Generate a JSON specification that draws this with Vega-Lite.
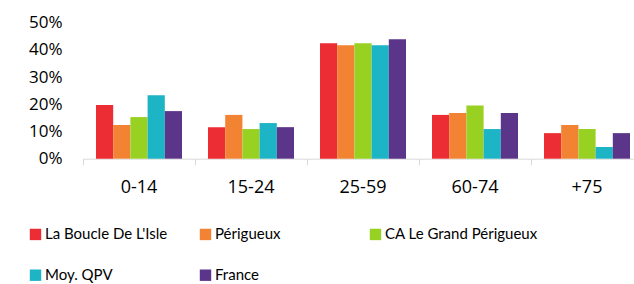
{
  "$schema": "https://vega.github.io/schema/vega-lite/v6.json",
  "width": 551,
  "height": 136,
  "autosize": "none",
  "padding": {"left": 83, "top": 22.7, "right": 0, "bottom": 125.3},
  "background": "white",
  "config": {"view": {"stroke": null}},
  "data": {
    "values": [
      {"age": "0-14", "series": "La Boucle De L'Isle", "value": 0.197},
      {"age": "0-14", "series": "Périgueux", "value": 0.124},
      {"age": "0-14", "series": "CA Le Grand Périgueux", "value": 0.153},
      {"age": "0-14", "series": "Moy. QPV", "value": 0.233},
      {"age": "0-14", "series": "France", "value": 0.175},
      {"age": "15-24", "series": "La Boucle De L'Isle", "value": 0.116},
      {"age": "15-24", "series": "Périgueux", "value": 0.161},
      {"age": "15-24", "series": "CA Le Grand Périgueux", "value": 0.109},
      {"age": "15-24", "series": "Moy. QPV", "value": 0.131},
      {"age": "15-24", "series": "France", "value": 0.116},
      {"age": "25-59", "series": "La Boucle De L'Isle", "value": 0.424},
      {"age": "25-59", "series": "Périgueux", "value": 0.417},
      {"age": "25-59", "series": "CA Le Grand Périgueux", "value": 0.424},
      {"age": "25-59", "series": "Moy. QPV", "value": 0.417},
      {"age": "25-59", "series": "France", "value": 0.439},
      {"age": "60-74", "series": "La Boucle De L'Isle", "value": 0.161},
      {"age": "60-74", "series": "Périgueux", "value": 0.168},
      {"age": "60-74", "series": "CA Le Grand Périgueux", "value": 0.196},
      {"age": "60-74", "series": "Moy. QPV", "value": 0.109},
      {"age": "60-74", "series": "France", "value": 0.168},
      {"age": "+75", "series": "La Boucle De L'Isle", "value": 0.094},
      {"age": "+75", "series": "Périgueux", "value": 0.124},
      {"age": "+75", "series": "CA Le Grand Périgueux", "value": 0.109},
      {"age": "+75", "series": "Moy. QPV", "value": 0.043},
      {"age": "+75", "series": "France", "value": 0.094}
    ]
  },
  "mark": {"type": "bar"},
  "encoding": {
    "x": {
      "field": "age",
      "type": "nominal",
      "sort": ["0-14", "15-24", "25-59", "60-74", "+75"],
      "scale": {"paddingInner": 0.232, "paddingOuter": 0.116, "range": [0, 560]},
      "axis": {
        "title": null,
        "labelAngle": 0,
        "labelFont": "Open Sans",
        "labelFontSize": 18,
        "labelColor": "#000000",
        "labelPadding": 14,
        "domainColor": "#d9d9d9",
        "tickColor": "#d9d9d9",
        "tickSize": 6,
        "bandPosition": -0.151
      }
    },
    "xOffset": {
      "field": "series",
      "type": "nominal",
      "sort": ["La Boucle De L'Isle", "Périgueux", "CA Le Grand Périgueux", "Moy. QPV", "France"],
      "scale": {"paddingInner": 0, "paddingOuter": 0}
    },
    "y": {
      "field": "value",
      "type": "quantitative",
      "scale": {"domain": [0, 0.5], "nice": false},
      "axis": {
        "title": null,
        "format": ".0%",
        "values": [0, 0.1, 0.2, 0.3, 0.4, 0.5],
        "grid": false,
        "domain": false,
        "ticks": false,
        "labelPadding": 21,
        "labelFont": "Open Sans",
        "labelFontSize": 17,
        "labelColor": "#000000"
      }
    },
    "color": {
      "field": "series",
      "type": "nominal",
      "scale": {
        "domain": ["La Boucle De L'Isle", "Périgueux", "CA Le Grand Périgueux", "Moy. QPV", "France"],
        "range": ["#ec2d34", "#f28332", "#98d122", "#1db4c6", "#5b3589"]
      },
      "legend": {
        "title": null,
        "orient": "none",
        "legendX": -55,
        "legendY": 204,
        "direction": "horizontal",
        "columns": 3,
        "gridAlign": "all",
        "columnPadding": -12,
        "rowPadding": 25,
        "symbolType": "square",
        "symbolSize": 130,
        "symbolStrokeWidth": 0,
        "labelOffset": 2,
        "labelLimit": 300,
        "labelFont": "Lato",
        "labelFontSize": 15,
        "labelColor": "#000000"
      }
    }
  }
}
